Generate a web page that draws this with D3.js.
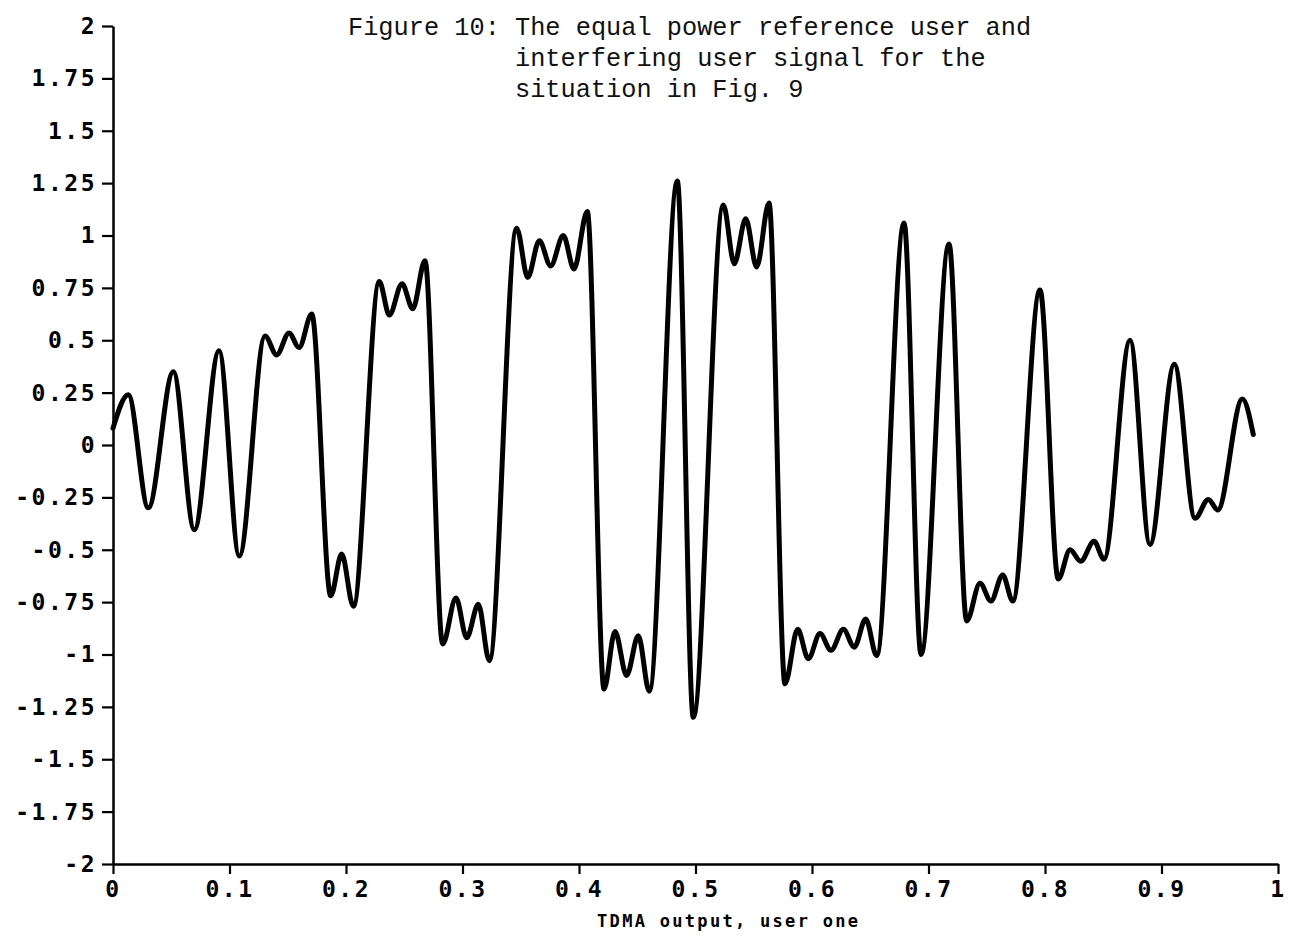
<!DOCTYPE html>
<html>
<head>
<meta charset="utf-8">
<script src="https://cdn.jsdelivr.net/npm/d3@7"></script>
<style>
  html, body { margin: 0; padding: 0; background: #fff; }
  svg { display: block; }
</style>
</head>
<body>
<svg id="chart" width="1294" height="948"></svg>
<script>
// Caption and axis title
const titleLines = [
  "Figure 10: The equal power reference user and",
  "interfering user signal for the",
  "situation in Fig. 9"
];
const xTitle = "TDMA output, user one";

// Tick values
const xTicks = [0, 0.1, 0.2, 0.3, 0.4, 0.5, 0.6, 0.7, 0.8, 0.9, 1];
const yTicks = [-2, -1.75, -1.5, -1.25, -1, -0.75, -0.5, -0.25, 0,
                0.25, 0.5, 0.75, 1, 1.25, 1.5, 1.75, 2];

// Received signal: turning points of the waveform (time, amplitude)
const sampleT = [
  0.0000, 0.0131, 0.0303, 0.0518, 0.0698, 0.0910, 0.1084, 0.1305, 0.1405, 0.1511,
  0.1597, 0.1706, 0.1869, 0.1963, 0.2063, 0.2286, 0.2372, 0.2481, 0.2573, 0.2678,
  0.2830, 0.2944, 0.3036, 0.3136, 0.3230, 0.3465, 0.3560, 0.3659, 0.3757, 0.3865,
  0.3957, 0.4071, 0.4215, 0.4309, 0.4409, 0.4509, 0.4603, 0.4844, 0.4981, 0.5239,
  0.5333, 0.5431, 0.5525, 0.5631, 0.5768, 0.5877, 0.5968, 0.6069, 0.6163, 0.6269,
  0.6363, 0.6461, 0.6555, 0.6790, 0.6936, 0.7176, 0.7328, 0.7442, 0.7536, 0.7637,
  0.7723, 0.7957, 0.8114, 0.8215, 0.8306, 0.8421, 0.8506, 0.8730, 0.8901, 0.9110,
  0.9288, 0.9402, 0.9483, 0.9694, 0.9788
];
const sampleV = [
  0.08, 0.24, -0.30, 0.35, -0.405, 0.45, -0.53, 0.52, 0.43, 0.535,
  0.465, 0.625, -0.72, -0.52, -0.77, 0.78, 0.62, 0.77, 0.65, 0.88,
  -0.95, -0.73, -0.92, -0.76, -1.03, 1.035, 0.80, 0.975, 0.855, 1.00,
  0.84, 1.115, -1.165, -0.89, -1.10, -0.91, -1.175, 1.26, -1.30, 1.145,
  0.865, 1.08, 0.85, 1.155, -1.14, -0.88, -1.02, -0.90, -0.98, -0.88,
  -0.965, -0.83, -1.005, 1.06, -1.00, 0.96, -0.84, -0.66, -0.745, -0.62,
  -0.745, 0.74, -0.64, -0.50, -0.555, -0.46, -0.545, 0.50, -0.475, 0.385,
  -0.35, -0.26, -0.31, 0.22, 0.05
];

const svg = d3.select("#chart");

const x = d3.scaleLinear().domain([0, 1]).range([113, 1278]);
const y = d3.scaleLinear().domain([-2, 2]).range([864, 26]);

const plotFont = "'DejaVu Sans Mono', monospace";
const fmt = d => String(d);

// Vertical axis
const gy = svg.append("g")
  .attr("transform", `translate(${x(0)},0)`)
  .call(d3.axisLeft(y).tickValues(yTicks).tickFormat(fmt)
        .tickSize(11).tickSizeOuter(0).tickPadding(5));

// Horizontal axis
const gx = svg.append("g")
  .attr("transform", `translate(0,${y(-2)})`)
  .call(d3.axisBottom(x).tickValues(xTicks).tickFormat(fmt)
        .tickSize(10).tickSizeOuter(0).tickPadding(7));

[gx, gy].forEach(g => {
  g.attr("font-family", null).attr("font-size", null);
  g.select(".domain").attr("stroke", "#000").attr("stroke-width", 2.5);
  g.selectAll(".tick line").attr("stroke", "#000").attr("stroke-width", 2.2);
  g.selectAll(".tick text")
    .attr("fill", "#000")
    .style("font-family", plotFont)
    .style("font-weight", "bold")
    .style("font-size", "23px")
    .style("letter-spacing", "2.5px");
});

// Waveform
const pts = sampleT.map((t, i) => [t, sampleV[i]]);
const line = d3.line()
  .x(d => x(d[0]))
  .y(d => y(d[1]))
  .curve(d3.curveMonotoneX);

svg.append("path")
  .datum(pts)
  .attr("d", line)
  .attr("fill", "none")
  .attr("stroke", "#000")
  .attr("stroke-width", 5)
  .attr("stroke-linejoin", "round")
  .attr("stroke-linecap", "round");

// Caption (typewriter)
const capX = 348, capPitch = 15.18;
const cap = svg.append("g")
  .style("font-family", "'Liberation Mono', 'Courier New', monospace")
  .style("font-size", "25.3px")
  .attr("fill", "#111");
titleLines.forEach((s, i) => {
  cap.append("text")
    .attr("x", i === 0 ? capX : capX + 11 * capPitch)
    .attr("y", 35 + i * 31)
    .attr("xml:space", "preserve")
    .text(s);
});

// Axis title
svg.append("text")
  .attr("x", x(0.5285))
  .attr("y", 927)
  .attr("text-anchor", "middle")
  .style("font-family", plotFont)
  .style("font-weight", "bold")
  .style("font-size", "17px")
  .style("letter-spacing", "2.3px")
  .attr("fill", "#000")
  .text(xTitle);
</script>
</body>
</html>
